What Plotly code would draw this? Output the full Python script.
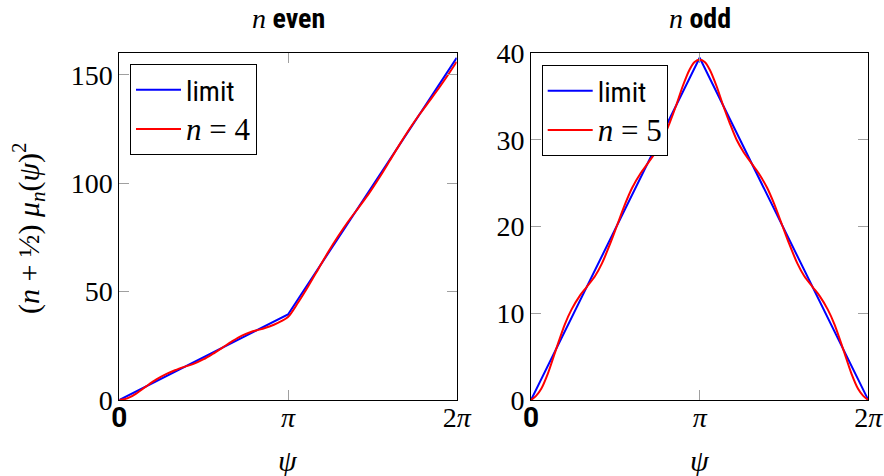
import math
import plotly.graph_objects as go

PI = math.pi

# ---------------- data ----------------
# psi positions in multiples of pi
limit_t = [0.0, 1.0, 2.0]
limit_even = [0.0, 39.48, 157.91]
limit_odd = [0.0, 39.48, 0.0]

even_t = [0.0, 0.03, 0.06, 0.10, 0.16, 0.22, 0.28, 0.33, 0.39, 0.44, 0.50, 0.55,
          0.61, 0.67, 0.73, 0.78, 0.83, 0.89, 0.94, 1.00, 1.06, 1.12, 1.18, 1.24,
          1.30, 1.36, 1.42, 1.48, 1.54, 1.60, 1.66, 1.72, 1.78, 1.84, 1.90, 1.96, 2.00]
even_n4 = [0.0, 0.38, 1.17, 2.95, 6.32, 9.49, 12.05, 13.73, 15.40, 16.67, 18.84, 21.11,
           24.08, 27.15, 29.82, 31.39, 32.47, 33.94, 35.61, 38.28, 44.99, 52.49, 60.50, 68.51,
           75.91, 82.72, 88.92, 95.33, 102.44, 110.04, 117.75, 125.06, 131.86, 138.17, 144.58, 151.38, 156.11]

odd_t = [0.0, 0.03, 0.06, 0.10, 0.15, 0.20, 0.24, 0.29, 0.33, 0.38, 0.42, 0.47, 0.51,
         0.56, 0.60, 0.65, 0.69, 0.74, 0.78, 0.82, 0.86, 0.90, 0.94, 0.97, 1.00,
         1.03, 1.06, 1.10, 1.14, 1.18, 1.22, 1.26, 1.31, 1.35, 1.40, 1.44, 1.49,
         1.53, 1.58, 1.62, 1.67, 1.71, 1.76, 1.80, 1.85, 1.90, 1.94, 1.97, 2.00]
odd_n5 = [0.0, 0.48, 1.27, 3.05, 5.92, 8.70, 10.43, 12.05, 13.03, 14.30, 15.73, 18.06, 20.13,
          22.71, 24.49, 26.16, 27.24, 28.62, 29.99, 31.87, 33.95, 36.23, 38.11, 39.00, 39.25,
          39.00, 38.11, 36.23, 33.95, 31.87, 29.99, 28.62, 27.24, 26.16, 24.49, 22.71, 20.13,
          18.06, 15.73, 14.30, 13.03, 12.05, 10.43, 8.70, 5.92, 3.05, 1.27, 0.48, 0.0]

x_tickvals = [0.0, PI, 2 * PI]
SANS = "Roboto Condensed, DejaVu Sans Condensed, Liberation Sans Narrow, Roboto, sans-serif"
SERIF = "Liberation Serif, DejaVu Serif, serif"
x_ticktext = ["<span style='font-family:Roboto;font-weight:bold'>0</span>", "<i>π</i>", "2<i>π</i>"]
left_yticks = [0, 50, 100, 150]
right_yticks = [0, 10, 20, 30, 40]

BLUE = "#0000ff"
RED = "#ff0000"

fig = go.Figure()

def psi(ts):
    return [t * PI for t in ts]

def math_name(k):
    return "<span style='font-family:Liberation Serif;font-size:31px'><i>n</i> = %d</span>" % k

fig.add_trace(go.Scatter(x=psi(limit_t), y=limit_even, mode="lines", name="limit",
                         line=dict(color=BLUE, width=2), xaxis="x", yaxis="y", legend="legend"))
fig.add_trace(go.Scatter(x=psi(even_t), y=even_n4, mode="lines", name=math_name(4),
                         line=dict(color=RED, width=2, shape="spline", smoothing=0.8),
                         xaxis="x", yaxis="y", legend="legend"))
fig.add_trace(go.Scatter(x=psi(limit_t), y=limit_odd, mode="lines", name="limit",
                         line=dict(color=BLUE, width=2), xaxis="x2", yaxis="y2", legend="legend2"))
fig.add_trace(go.Scatter(x=psi(odd_t), y=odd_n5, mode="lines", name=math_name(5),
                         line=dict(color=RED, width=2, shape="spline", smoothing=0.8),
                         xaxis="x2", yaxis="y2", legend="legend2"))

axis_common = dict(showline=True, linecolor="black", linewidth=1, mirror="ticks",
                   ticks="inside", ticklen=10, tickcolor="#a0a0a0", tickwidth=1,
                   showgrid=False, zeroline=False, automargin=False,
                   tickfont=dict(family=SERIF, size=28, color="black"))

x_dom_l = [119.3 / 884, 456.7 / 884]
x_dom_r = [531.0 / 884, 868.3 / 884]
y_dom = [(476 - 400) / 476, (476 - 53.3) / 476]

legend_common = dict(xanchor="left", yanchor="top", bordercolor="black", borderwidth=1,
                     bgcolor="white", itemwidth=45,
                     font=dict(family=SANS, size=28, color="black"))

fig.update_layout(
    width=884, height=476,
    autosize=False,
    margin=dict(l=0, r=0, t=0, b=0, pad=0, autoexpand=False),
    paper_bgcolor="white", plot_bgcolor="white",
    xaxis=dict(domain=x_dom_l, range=[0, 2 * PI], tickvals=x_tickvals, ticktext=x_ticktext,
               anchor="y", ticklabelstandoff=-8, **axis_common),
    yaxis=dict(domain=y_dom, range=[0, 160], tickvals=left_yticks, anchor="x", **axis_common),
    xaxis2=dict(domain=x_dom_r, range=[0, 2 * PI], tickvals=x_tickvals, ticktext=x_ticktext,
                anchor="y2", ticklabelstandoff=-8, **axis_common),
    yaxis2=dict(domain=y_dom, range=[0, 40], tickvals=right_yticks, anchor="x2", **axis_common),
    legend=dict(x=130 / 884, y=1 - 64 / 476, **legend_common),
    legend2=dict(x=541.7 / 884, y=1 - 65 / 476, **legend_common),
    showlegend=True,
)

annotations = [
    dict(text="<span style='font-family:Liberation Serif;font-weight:normal'><i>n</i></span> <b>even</b>",
         x=288 / 884, y=1 - 19 / 476,
         xref="paper", yref="paper", showarrow=False, xanchor="center", yanchor="middle",
         font=dict(family=SANS, size=28, color="black")),
    dict(text="<span style='font-family:Liberation Serif;font-weight:normal'><i>n</i></span> <b>odd</b>",
         x=700 / 884, y=1 - 19 / 476,
         xref="paper", yref="paper", showarrow=False, xanchor="center", yanchor="middle",
         font=dict(family=SANS, size=28, color="black")),
    dict(text="<i>ψ</i>", x=288 / 884, y=1 - 460 / 476, xref="paper", yref="paper",
         showarrow=False, xanchor="center", yanchor="middle",
         font=dict(family=SERIF, size=30, color="black")),
    dict(text="<i>ψ</i>", x=700 / 884, y=1 - 460 / 476, xref="paper", yref="paper",
         showarrow=False, xanchor="center", yanchor="middle",
         font=dict(family=SERIF, size=30, color="black")),
    dict(text="(<i>n</i> + ½) <i>μ<sub>n</sub></i>(<i>ψ</i>)<sup>2</sup>", x=28 / 884, y=1 - 228 / 476,
         xref="paper", yref="paper", showarrow=False, xanchor="center", yanchor="middle",
         textangle=-90, font=dict(family=SERIF, size=30, color="black")),
]
fig.update_layout(annotations=annotations)

fig.write_html("out.html", config={"displayModeBar": False},
               post_script="document.body.style.margin='0';")
